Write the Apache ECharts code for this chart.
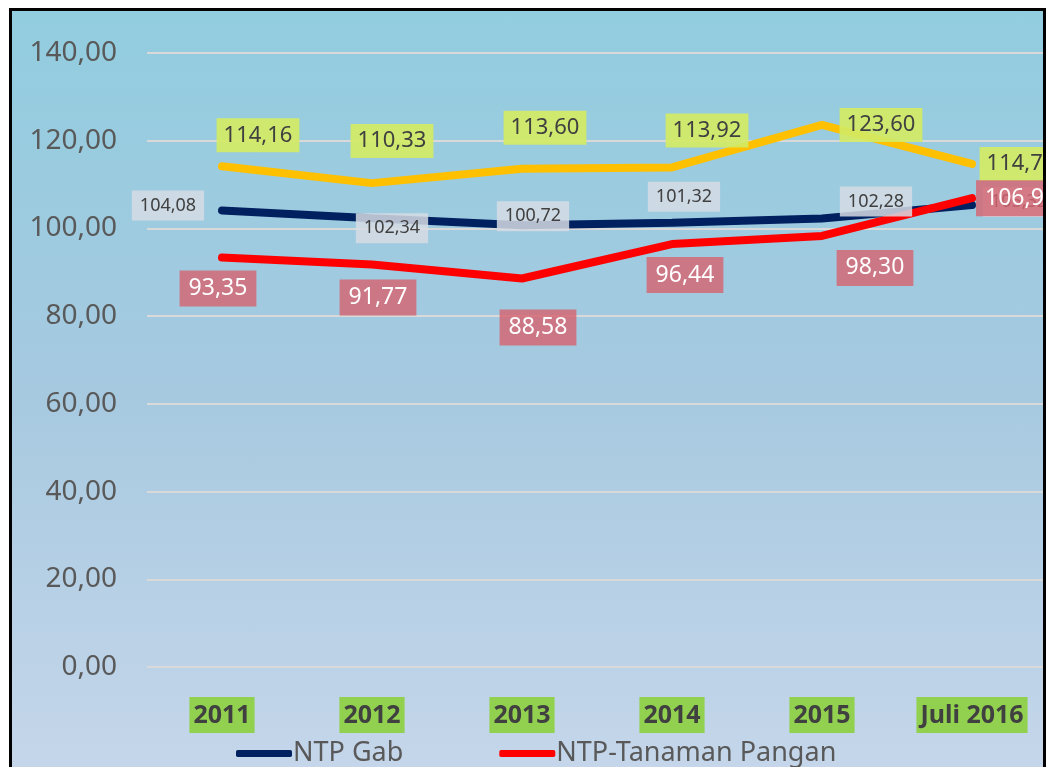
<!DOCTYPE html>
<html>
<head>
<meta charset="utf-8">
<script src="https://cdn.jsdelivr.net/npm/echarts@6/dist/echarts.min.js"></script>
<style>
  html, body { margin: 0; padding: 0; background: #fff; }
  .frame {
    position: absolute; left: 9px; top: 8px; width: 1037px; height: 759px;
    box-sizing: border-box; border: 3px solid #000; border-bottom: none;
    overflow: hidden;
    background: linear-gradient(to bottom, #92CDDF 0%, #A6C9E0 50%, #C5D6EA 100%);
  }
  #main { position: absolute; left: -12px; top: -11px; width: 1050px; height: 767px; }
</style>
</head>
<body>
<div class="frame"><div id="main"></div></div>
<script>
// data
var years = ['2011', '2012', '2013', '2014', '2015', 'Juli 2016'];
var ntpGab = [104.08, 102.34, 100.72, 101.32, 102.28, 105.32];
var ntpPangan = [93.35, 91.77, 88.58, 96.44, 98.30, 106.9];
var ntpLain = [114.16, 110.33, 113.60, 113.92, 123.60, 114.7];
var legendNames = ['NTP Gab', 'NTP-Tanaman Pangan'];

// manual label shifts (px), like the hand-placed labels of the original
var offGab = [[-54, -5], [20, 10], [11, -9], [12, -26], [54, -17], [47, -3]];
var offPangan = [[-4, 31], [6, 33], [16, 49], [13, 31], [53, 32], [49, 0]];
var offLain = [[36, -31], [20, -42], [23, -41], [35, -37], [59, 0], [49, 0]];

function fmt (v) { return v.toFixed(2).replace('.', ','); }
function withOffsets (vals, offs) {
  return vals.map(function (v, i) { return { value: v, label: { offset: offs[i] } }; });
}

var font = '"Noto Sans", sans-serif';
var myChart = echarts.init(document.getElementById('main'));

var option = {
  backgroundColor: 'transparent',
  animation: false,
  grid: { left: 147, right: 3, top: 53, bottom: 100 },
  legend: {
    data: legendNames,
    left: 231, top: 735,
    icon: 'roundRect', itemWidth: 56, itemHeight: 7, itemGap: 96,
    textStyle: { color: '#595959', fontSize: 27, fontFamily: font, padding: [0, 0, 0, -4] }
  },
  xAxis: {
    type: 'category',
    data: years,
    boundaryGap: true,
    axisLine: { show: false },
    axisTick: { show: false },
    axisLabel: {
      margin: 30,
      color: '#404040',
      fontSize: 25,
      fontWeight: 'bold',
      fontFamily: '"Liberation Sans Narrow", "Noto Sans", sans-serif',
      backgroundColor: '#92D050',
      padding: [6, 4, 5, 4]
    }
  },
  yAxis: {
    type: 'value',
    min: 0, max: 140, interval: 20,
    axisLine: { show: false },
    axisTick: { show: false },
    splitLine: { lineStyle: { color: '#D9D9D9', width: 2 } },
    axisLabel: {
      margin: 30,
      color: '#595959',
      fontSize: 28,
      fontFamily: font,
      formatter: function (v) { return fmt(v); }
    }
  },
  series: [
    {
      name: 'NTP Lain',
      type: 'line',
      data: withOffsets(ntpLain, offLain),
      symbol: 'circle', symbolSize: 1,
      lineStyle: { color: '#FFC000', width: 8, cap: 'round' },
      itemStyle: { color: '#FFC000' },
      label: {
        show: true, position: 'inside',
        formatter: function (p) { return fmt(p.value); },
        color: '#404040', fontSize: 22, fontFamily: font,
        backgroundColor: 'rgba(212,234,100,0.92)',
        padding: [7, 7, 5, 7]
      }
    },
    {
      name: 'NTP Gab',
      type: 'line',
      data: withOffsets(ntpGab, offGab),
      symbol: 'circle', symbolSize: 1,
      lineStyle: { color: '#002060', width: 8, cap: 'round' },
      itemStyle: { color: '#002060' },
      label: {
        show: true, position: 'inside',
        formatter: function (p) { return fmt(p.value); },
        color: '#404040', fontSize: 18, fontFamily: font,
        backgroundColor: 'rgba(214,220,228,0.85)',
        padding: [7, 8, 5, 8]
      }
    },
    {
      name: 'NTP-Tanaman Pangan',
      type: 'line',
      data: withOffsets(ntpPangan, offPangan),
      symbol: 'circle', symbolSize: 1,
      lineStyle: { color: '#FF0000', width: 8, cap: 'round' },
      itemStyle: { color: '#FF0000' },
      label: {
        show: true, position: 'inside',
        formatter: function (p) { return fmt(p.value); },
        color: '#FFFFFF', fontSize: 23, fontFamily: font,
        backgroundColor: 'rgba(214,100,112,0.82)',
        padding: [7, 9, 6, 9]
      }
    }
  ]
};
myChart.setOption(option);
</script>
</body>
</html>
